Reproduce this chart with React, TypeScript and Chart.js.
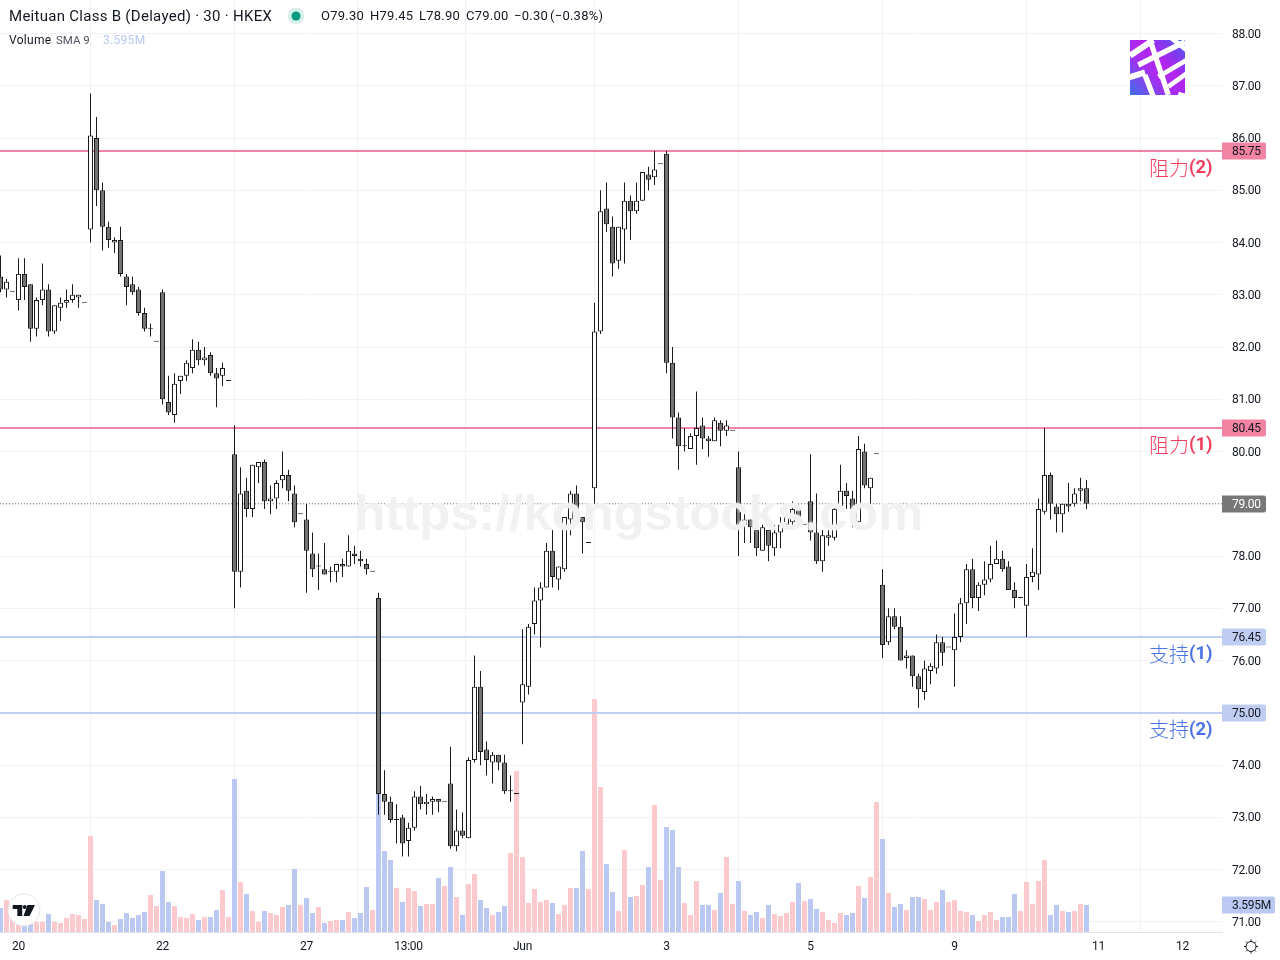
import React, { useEffect, useRef } from "react";
import { Chart, registerables } from "chart.js";

Chart.register(...registerables);

const opens = [
  83.35,83.10,83.05,82.90,83.40,83.20,82.35,82.90,83.10,82.30,
  82.75,82.85,82.90,82.95,82.85,84.25,86.00,85.00,84.30,84.00,
  84.05,83.35,83.20,83.10,82.65,82.35,82.10,83.05,80.95,80.70,
  81.35,81.45,81.60,81.95,81.75,81.85,81.50,81.45,81.35,79.95,
  77.70,79.25,78.90,79.70,79.80,79.05,79.10,79.45,79.55,79.20,
  78.80,78.70,78.05,77.80,77.75,77.70,77.70,77.85,77.80,78.05,
  77.95,77.85,77.70,77.20,73.45,73.30,72.95,73.00,72.55,72.80,
  73.40,73.25,73.30,73.35,73.30,73.65,72.45,72.75,72.60,74.10,
  75.50,74.30,74.05,74.20,74.05,73.50,73.45,75.20,75.50,76.70,
  77.15,77.40,78.10,77.55,77.75,78.70,79.20,78.75,78.25,79.30,
  82.30,84.65,84.30,83.65,84.25,84.80,84.60,84.80,85.30,85.25,
  85.50,85.70,81.70,80.65,80.10,80.05,80.30,80.50,80.25,80.20,
  80.55,80.40,80.40,79.70,78.60,78.70,78.50,78.10,78.50,78.15,
  78.45,78.60,78.65,78.90,78.60,79.05,78.45,77.90,78.35,78.35,
  78.95,79.25,79.10,78.65,80.00,79.30,79.95,77.45,76.35,76.85,
  76.65,76.05,76.10,75.70,75.40,75.80,75.85,76.35,76.25,76.20,
  76.45,77.10,77.75,77.20,77.45,77.55,77.85,77.95,77.80,77.35,
  77.20,77.05,77.60,77.65,78.85,79.55,78.95,78.80,79.00,79.00,
  79.25,79.30,
];
const highs = [
  83.75,83.30,83.05,83.70,83.70,83.20,82.95,83.60,83.20,82.80,
  82.95,83.10,83.20,83.00,82.85,86.85,86.40,85.15,84.40,84.10,
  84.30,83.40,83.35,83.15,82.75,82.45,82.10,83.10,81.45,81.50,
  81.45,81.75,82.15,82.10,82.00,81.90,81.60,81.70,81.35,80.50,
  79.70,79.50,79.75,79.80,79.85,79.35,79.45,80.00,79.65,79.35,
  78.80,79.00,78.45,78.05,78.25,77.80,77.85,77.95,78.40,78.20,
  78.10,77.95,77.70,77.30,73.90,73.40,73.25,73.05,72.90,73.50,
  73.60,73.45,73.40,73.35,73.30,74.35,73.15,73.10,74.15,76.10,
  75.80,74.45,74.25,74.20,74.20,73.80,73.45,76.60,76.70,77.40,
  77.50,78.25,78.50,77.80,78.75,79.25,79.35,78.75,78.25,82.85,
  85.00,85.15,84.50,84.30,85.15,84.90,85.15,85.35,85.45,85.75,
  85.50,85.75,82.00,80.75,80.45,80.35,81.15,80.65,80.30,80.65,
  80.60,80.60,80.40,80.00,78.80,78.70,78.50,78.60,78.50,78.60,
  78.75,78.85,79.05,79.00,78.60,79.95,79.20,78.50,78.50,78.95,
  79.75,79.40,79.25,80.30,80.15,79.50,79.95,77.75,77.00,77.00,
  76.85,76.20,76.10,75.75,76.00,75.95,76.50,76.45,76.25,76.90,
  77.20,77.85,77.95,77.50,77.90,78.20,78.30,78.10,77.90,77.50,
  77.20,77.85,78.15,79.10,80.45,79.60,79.00,79.00,79.40,79.30,
  79.50,79.45,
];
const lows = [
  83.05,82.95,83.05,82.70,82.90,82.10,82.20,82.80,82.20,82.25,
  82.50,82.75,82.85,82.75,82.85,84.00,84.70,83.85,83.90,83.80,
  83.35,82.80,83.00,82.60,82.30,82.20,82.10,80.90,80.70,80.55,
  81.10,81.35,81.50,81.65,81.65,81.45,80.85,81.25,81.35,77.00,
  77.40,78.75,78.75,79.40,78.90,78.80,78.90,79.30,79.05,78.55,
  78.80,77.30,77.60,77.35,77.65,77.50,77.50,77.60,77.80,77.85,
  77.80,77.65,77.70,73.05,73.05,72.90,72.50,72.25,72.25,72.75,
  73.15,73.05,73.05,73.10,73.30,72.40,72.35,72.60,72.60,74.05,
  74.00,73.80,73.65,73.90,73.45,73.30,73.45,74.40,75.35,76.50,
  76.25,77.40,77.40,77.35,77.70,78.40,78.70,78.05,78.25,79.00,
  82.25,84.20,83.35,83.50,83.60,84.05,84.55,84.80,85.00,85.10,
  85.50,81.50,80.25,79.65,80.00,80.05,79.75,80.05,79.90,80.20,
  80.10,80.30,80.40,78.00,78.25,78.25,78.00,78.10,77.90,78.00,
  78.15,78.55,78.60,78.70,78.60,78.30,77.85,77.70,78.20,78.30,
  78.90,78.90,78.55,78.65,79.30,79.00,79.95,76.05,76.30,76.60,
  76.00,75.85,75.50,75.10,75.25,75.55,75.75,75.90,76.25,75.50,
  76.35,76.70,77.00,76.95,77.25,77.50,77.85,77.70,77.35,77.00,
  77.20,76.45,77.50,77.35,78.80,78.70,78.45,78.45,78.85,78.95,
  79.05,78.90,
];
const closes = [
  83.10,83.25,83.05,83.40,83.15,82.35,82.90,83.10,82.30,82.80,
  82.85,82.90,83.00,83.00,82.85,86.05,85.00,84.30,84.05,84.05,
  83.40,83.15,83.05,82.65,82.35,82.35,82.10,81.00,80.75,81.30,
  81.45,81.70,81.95,81.75,81.80,81.50,81.40,81.60,81.35,77.70,
  79.20,78.90,79.75,79.80,79.05,79.10,79.40,79.55,79.25,78.65,
  78.80,78.10,77.75,77.80,77.65,77.70,77.85,77.80,78.10,78.00,
  77.90,77.75,77.70,73.45,73.30,72.95,72.95,72.50,72.80,73.40,
  73.25,73.30,73.35,73.30,73.30,72.45,72.75,72.65,74.10,75.50,
  74.25,74.10,74.20,74.05,73.50,73.50,73.45,75.55,76.65,77.15,
  77.40,78.10,77.60,77.80,78.75,79.20,78.80,78.65,78.25,82.30,
  84.60,84.35,83.60,84.30,84.80,84.60,84.80,85.35,85.20,85.40,
  85.50,81.70,80.65,80.10,80.10,80.30,80.45,80.25,80.20,80.60,
  80.40,80.50,80.40,78.60,78.70,78.55,78.15,78.55,78.20,78.45,
  78.60,78.75,78.90,78.75,78.60,78.45,77.90,78.40,78.40,78.90,
  79.25,79.15,78.90,80.05,79.35,79.50,79.95,76.30,76.85,76.65,
  76.00,76.10,75.70,75.45,75.85,75.90,76.35,76.15,76.25,76.45,
  77.10,77.75,77.20,77.45,77.55,77.85,77.95,77.75,77.35,77.20,
  77.20,77.60,77.70,78.90,79.55,79.00,78.80,79.00,78.95,79.20,
  79.30,79.00,
];
const volumes = [
  3.19,4.25,2.66,1.99,2.12,1.86,1.33,1.33,2.39,1.33,
  1.20,1.86,2.39,2.26,1.73,12.75,4.25,3.72,1.33,0.93,
  1.73,2.52,1.86,2.26,2.66,4.91,3.45,8.10,3.98,3.45,
  1.99,1.86,2.39,1.59,1.99,1.99,2.92,5.58,1.99,20.32,
  6.64,5.05,2.79,1.33,2.79,2.52,2.26,3.32,3.60,8.37,
  3.60,4.52,2.52,3.32,1.20,1.46,1.59,1.59,2.66,1.86,
  2.52,5.98,2.92,18.59,10.76,9.56,5.84,3.98,5.84,5.44,
  3.45,3.72,3.72,7.17,6.11,8.63,4.65,2.26,6.37,7.70,
  4.25,3.19,2.26,2.66,3.45,10.49,21.38,9.96,3.85,5.71,
  3.98,4.25,3.85,2.39,3.60,5.84,5.84,10.76,5.71,30.94,
  19.26,9.03,5.31,2.79,10.89,4.65,4.78,6.24,8.63,16.87,
  6.91,13.94,13.55,8.63,3.85,2.26,6.77,3.60,3.60,2.92,
  5.18,9.96,3.72,6.77,2.79,2.26,2.66,1.86,3.60,2.39,
  2.12,2.52,3.98,6.51,4.12,4.38,3.05,2.66,1.59,1.20,
  2.52,2.26,2.52,6.11,4.52,7.30,17.26,12.35,5.18,3.32,
  3.72,2.92,4.65,4.65,4.38,2.92,3.98,5.58,3.98,4.25,
  2.79,2.66,2.26,1.46,2.26,2.66,1.59,1.99,1.99,5.05,
  2.79,6.64,3.72,6.77,9.56,2.26,3.60,2.79,2.66,2.79,
  3.72,3.595,
];

const timeTickIndices = [3, 27, 51, 68, 87, 111, 135, 159, 183, 197];
const timeTickLabels = ["20", "22", "27", "13:00", "Jun", "3", "5", "9", "11", "12"];
const priceTicks = [71,72,73,74,75,76,77,78,79,80,81,82,83,84,85,86,87,88];
const resistanceLevels = [85.75, 80.45];
const resistanceNames = ["(2)", "(1)"];
const supportLevels = [76.45, 75.0];
const supportNames = ["(1)", "(2)"];
const lastPrice = 79.0;
const lastVolume = 3.595;
const lastVolumeLabel = "3.595M";
const ohlcLabels = ["O79.30", "H79.45", "L78.90", "C79.00", "−0.30", "(−0.38%)"];
const ohlcOffsets = [321, 370, 419, 466, 514, 550];

const FONT = "Roboto, sans-serif";
const UP_VOL = "#fcc9cd";
const DOWN_VOL = "#bac8f2";
const RES = "#f283a3";
const SUP = "#c0cdf2";
const INK = "#131722";
const GRID = "#f0f1f4";
const AXIS_SPACING = "-0.3px";

const overlayPlugin = {
  id: "overlay",
  beforeDraw(chart: any) {
    chart.ctx.letterSpacing = AXIS_SPACING;
  },
  afterDraw(chart: any) {
    const { ctx } = chart;
    const y = chart.scales.y;
    const vol = chart.scales.vol;
    ctx.save();
    ctx.textBaseline = "alphabetic";
    ctx.letterSpacing = "0px";

    // watermark
    ctx.save();
    ctx.shadowColor = "rgba(255,255,255,0.9)";
    ctx.shadowBlur = 3;
    ctx.fillStyle = "#f1f1f1";
    ctx.font = "bold 50.7px 'Liberation Sans', sans-serif";
    ctx.textAlign = "left";
    ctx.fillText("https://kongstocks.com", 354.5, 530);
    ctx.restore();

    // header
    ctx.textBaseline = "middle";
    ctx.textAlign = "left";
    ctx.fillStyle = INK;
    ctx.font = `15px ${FONT}`;
    ctx.letterSpacing = "0.28px";
    ctx.fillText("Meituan Class B (Delayed) · 30 · HKEX", 9, 17);
    ctx.letterSpacing = "0px";
    ctx.fillStyle = "#d9efec";
    ctx.beginPath(); ctx.arc(296, 16, 8.5, 0, Math.PI * 2); ctx.fill();
    ctx.fillStyle = "#089981";
    ctx.beginPath(); ctx.arc(296, 16, 4.5, 0, Math.PI * 2); ctx.fill();
    ctx.fillStyle = INK;
    ctx.font = `13px ${FONT}`;
    ctx.letterSpacing = "0.25px";
    ohlcLabels.forEach((t, i) => ctx.fillText(t, ohlcOffsets[i], 17));
    ctx.letterSpacing = "0.3px";
    ctx.font = `12px ${FONT}`;
    ctx.fillText("Volume", 9, 41);
    ctx.letterSpacing = "0px";
    ctx.fillStyle = "#50535e";
    ctx.font = `11.5px ${FONT}`;
    ctx.fillText("SMA 9", 56, 41);
    ctx.fillStyle = "#bac8f2";
    ctx.letterSpacing = "0.3px";
    ctx.font = `12px ${FONT}`;
    ctx.fillText(lastVolumeLabel, 103, 41);
    ctx.letterSpacing = "0px";

    // level annotations
    const drawNote = (p: number, name: string, zh: string, color: string) => {
      const py = y.getPixelForValue(p) + 17;
      ctx.fillStyle = color;
      ctx.font = "300 20px 'Noto Sans CJK SC', sans-serif";
      ctx.textAlign = "left";
      ctx.fillText(zh, 1149, py);
      ctx.font = `bold 18.5px ${FONT}`;
      ctx.fillText(name, 1189, py + 0.5);
    };
    resistanceLevels.forEach((p, i) => drawNote(p, resistanceNames[i], "阻力", "#f23f60"));
    supportLevels.forEach((p, i) => drawNote(p, supportNames[i], "支持", "#4a72e4"));

    // price axis tags
    const tag = (py: number, text: string, bg: string, fg: string, w = 44) => {
      ctx.fillStyle = bg;
      ctx.beginPath();
      ctx.roundRect(1222, Math.round(py) - 8.5, w, 17, [0, 2, 2, 0]);
      ctx.fill();
      ctx.fillStyle = fg;
      ctx.font = `12px ${FONT}`;
      ctx.letterSpacing = AXIS_SPACING;
      ctx.textAlign = "left";
      ctx.fillText(text, 1232, Math.round(py) + 1);
      ctx.letterSpacing = "0px";
    };
    resistanceLevels.forEach((p) => tag(y.getPixelForValue(p), p.toFixed(2), RES, INK));
    supportLevels.forEach((p) => tag(y.getPixelForValue(p), p.toFixed(2), SUP, INK));
    tag(y.getPixelForValue(lastPrice), lastPrice.toFixed(2), "#787878", "#ffffff");
    tag(vol.getPixelForValue(lastVolume), lastVolumeLabel, DOWN_VOL, INK, 53);

    // brand badge
    const g = ctx.createLinearGradient(1130, 95, 1185, 40);
    g.addColorStop(0, "#3d6fea");
    g.addColorStop(0.4, "#a92cf0");
    g.addColorStop(0.6, "#b324ee");
    g.addColorStop(0.8, "#7c3bee");
    g.addColorStop(1, "#3f6ff0");
    ctx.save();
    ctx.beginPath(); ctx.rect(1130, 40, 55, 55); ctx.clip();
    ctx.fillStyle = g; ctx.fillRect(1130, 40, 55, 55);
    ctx.strokeStyle = "#ffffff";
    const seg = (a: number, b: number, c: number, d: number, w: number) => {
      ctx.lineWidth = w / 3;
      ctx.beginPath();
      ctx.moveTo(1125 + a / 3, 35 + b / 3);
      ctx.lineTo(1125 + c / 3, 35 + d / 3);
      ctx.stroke();
    };
    seg(15, 62, 85, 15, 18);
    seg(40, 90, 180, 20, 16);
    seg(75, 15, 130, 180, 16);
    seg(10, 128, 60, 112, 18);
    seg(60, 120, 85, 185, 16);
    seg(100, 125, 185, 75, 14);
    seg(130, 155, 185, 115, 14);
    seg(140, 10, 185, 45, 14);
    seg(160, 175, 185, 182, 10);
    ctx.restore();

    // floating library badge
    ctx.fillStyle = "#ffffff";
    ctx.strokeStyle = "#e6e6ea";
    ctx.lineWidth = 1;
    ctx.beginPath(); ctx.arc(24, 910, 16, 0, Math.PI * 2); ctx.fill(); ctx.stroke();
    ctx.fillStyle = INK;
    ctx.fillRect(12.7, 905, 9.5, 4);
    ctx.fillRect(17.3, 905, 4.9, 11);
    ctx.beginPath(); ctx.arc(24.8, 907, 2, 0, Math.PI * 2); ctx.fill();
    ctx.beginPath();
    ctx.moveTo(27.5, 905); ctx.lineTo(35, 905); ctx.lineTo(29.5, 916); ctx.lineTo(23.5, 916);
    ctx.closePath(); ctx.fill();

    // settings glyph
    ctx.strokeStyle = INK;
    ctx.lineWidth = 1;
    ctx.beginPath(); ctx.arc(1251, 946.5, 5, 0, Math.PI * 2); ctx.stroke();
    for (let k = 0; k < 8; k++) {
      const a = (k * Math.PI) / 4;
      ctx.beginPath();
      ctx.moveTo(1251 + Math.cos(a) * 5, 946.5 + Math.sin(a) * 5);
      ctx.lineTo(1251 + Math.cos(a) * 7, 946.5 + Math.sin(a) * 7);
      ctx.stroke();
    }
    ctx.restore();
  },
};

export default function App() {
  const ref = useRef<HTMLCanvasElement | null>(null);
  useEffect(() => {
    if (!ref.current) return;
    const xMin = -0.5 / 6;
    const xMax = 1221.5 / 6;
    const isUp = (i: number) => closes[i] >= opens[i];
    const hline = (p: number, color: string, width: number, dash: number[] = []) => ({
      type: "line" as const,
      data: [{ x: xMin, y: p }, { x: xMax, y: p }],
      borderColor: color,
      borderWidth: width,
      borderDash: dash,
      pointRadius: 0,
      yAxisID: "y",
      order: 5,
    });
    const chart = new Chart(ref.current, {
      type: "bar",
      data: {
        datasets: [
          {
            data: volumes.map((v, i) => ({ x: i, y: v })),
            backgroundColor: volumes.map((_, i) => (isUp(i) ? UP_VOL : DOWN_VOL)),
            barThickness: 5,
            grouped: false,
            inflateAmount: 0,
            yAxisID: "vol",
            order: 6,
          },
          ...resistanceLevels.map((p) => hline(p, RES, 2)),
          ...supportLevels.map((p) => hline(p, SUP, 2)),
          hline(lastPrice, "#777777", 1, [1, 2]),
          {
            data: lows.map((l, i) => ({ x: i, y: [l, highs[i]] })),
            backgroundColor: "#1a1a1a",
            barThickness: 1,
            grouped: false,
            inflateAmount: 0,
            yAxisID: "y",
            order: 3,
          },
          {
            data: opens.map((o, i) => ({ x: i, y: [Math.min(o, closes[i]), Math.max(o, closes[i])] })),
            backgroundColor: opens.map((_, i) => (isUp(i) ? "#ffffff" : "#737373")),
            borderColor: "#1a1a1a",
            borderWidth: 1,
            borderSkipped: false,
            barThickness: 5,
            minBarLength: 1,
            grouped: false,
            inflateAmount: 0,
            yAxisID: "y",
            order: 2,
          },
        ] as any,
      },
      options: {
        responsive: false,
        animation: false,
        devicePixelRatio: 1,
        layout: { padding: 0 },
        plugins: { legend: { display: false }, tooltip: { enabled: false } },
        scales: {
          x: {
            type: "linear",
            offset: false,
            min: xMin,
            max: xMax,
            afterBuildTicks: (s: any) => {
              s.ticks = timeTickIndices.map((value) => ({ value }));
            },
            afterFit: (s: any) => {
              s.height = 28;
              s.paddingLeft = 0;
              s.paddingRight = 0;
            },
            grid: { color: GRID, lineWidth: 1, drawTicks: false },
            border: { display: true, color: "#e0e3eb" },
            ticks: {
              autoSkip: false,
              maxRotation: 0,
              padding: 8,
              color: INK,
              font: { family: FONT, size: 12 },
              callback: (v: any) => timeTickLabels[timeTickIndices.indexOf(Number(v))] ?? "",
            },
          },
          y: {
            type: "linear",
            position: "right",
            min: 88 - 898.5 / 52.26,
            max: 88 + 33.5 / 52.26,
            afterBuildTicks: (s: any) => {
              s.ticks = priceTicks.map((value) => ({ value }));
            },
            afterFit: (s: any) => {
              s.width = 58;
              s.paddingTop = 0;
              s.paddingBottom = 0;
            },
            grid: { color: GRID, lineWidth: 1, drawTicks: false },
            border: { display: false },
            ticks: {
              padding: 10,
              crossAlign: "near",
              labelOffset: 1,
              color: INK,
              font: { family: FONT, size: 12 },
              callback: (v: any) => Number(v).toFixed(2),
            },
          },
          vol: {
            type: "linear",
            display: false,
            min: 0,
            max: 932 / 7.53,
          },
        },
      } as any,
      plugins: [overlayPlugin],
    });
    return () => chart.destroy();
  }, []);
  return (
    <div style={{ position: "absolute", left: 0, top: 0, width: 1280, height: 960, background: "#fff" }}>
      <canvas ref={ref} width={1280} height={960} style={{ display: "block", width: 1280, height: 960 }} />
    </div>
  );
}
